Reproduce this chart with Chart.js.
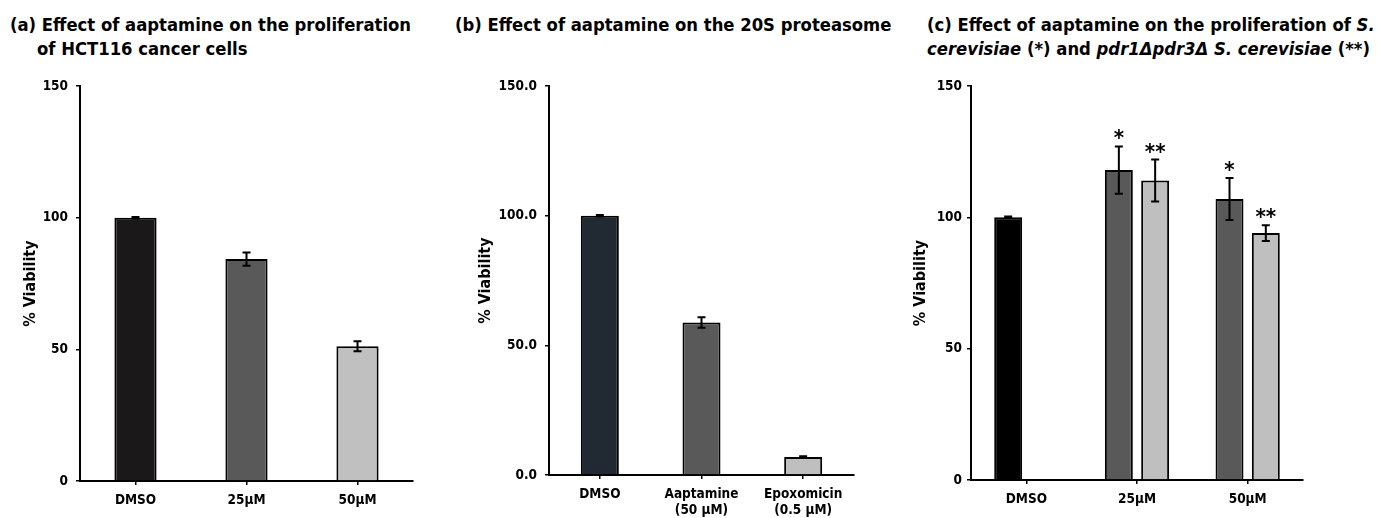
<!DOCTYPE html>
<html><head><meta charset="utf-8">
<script src="https://cdn.jsdelivr.net/npm/chart.js@4"></script>
<style>
html,body{margin:0;padding:0;background:#fff;width:1385px;height:518px;overflow:hidden;}
.t{position:absolute;font-family:'DejaVu Sans Condensed','DejaVu Sans',sans-serif;font-weight:bold;font-size:18.3px;line-height:24px;color:#000;white-space:nowrap;}
.c{position:absolute;}
</style></head><body>
<div class="t" style="left:10px;top:13px">(a) Effect of aaptamine on the proliferation</div>
<div class="t" style="left:37px;top:37px">of HCT116 cancer cells</div>
<div class="t" style="left:455px;top:13px">(b) Effect of aaptamine on the 20S proteasome</div>
<div class="t" style="left:927px;top:13px">(c) Effect of aaptamine on the proliferation of <i>S.</i></div>
<div class="t" style="left:927px;top:37px"><i>cerevisiae</i> (*) and <i>pdr1Δpdr3Δ S. cerevisiae</i> (**)</div>
<div class="c" style="left:0px;top:70px;width:440px;height:448px"><canvas id="ca"></canvas></div>
<div class="c" style="left:460px;top:70px;width:430px;height:448px"><canvas id="cb"></canvas></div>
<div class="c" style="left:890px;top:70px;width:470px;height:448px"><canvas id="cc"></canvas></div>
<script>
// ---- data ----
const catsA = ['DMSO', '25µM', '50µM'];
const valsA = [100, 84.3, 51.2];
const errsA = [0.3, 2.5, 1.9];
const colorsA = ['#1a1818', '#595959', '#c0c0c0'];

const catsB = ['DMSO', ['Aaptamine', '(50 µM)'], ['Epoxomicin', '(0.5 µM)']];
const valsB = [100, 58.8, 6.9];
const errsB = [0.3, 2.0, 0.3];
const colorsB = ['#212a33', '#595959', '#bfbfbf'];

const catsC = ['DMSO', '25µM', '50µM'];
const valsCwt = [100, 118, 107];
const errsCwt = [0.3, 9, 8];
const starsCwt = ['', '*', '*'];
const colorsCwt = ['#000000', '#595959', '#595959'];
const valsCmut = [null, 114, 94];
const errsCmut = [null, 8, 3];
const starsCmut = ['', '**', '**'];
const colorCmut = '#bfbfbf';

const yMin = 0, yMax = 150, yStep = 50;
const yTitle = '% Viability';

const FONT = "'DejaVu Sans Condensed','DejaVu Sans',sans-serif";

const errPlugin = {
  id: 'errbars',
  afterDatasetsDraw(chart) {
    const ctx = chart.ctx, y = chart.scales.y;
    chart.data.datasets.forEach((ds, di) => {
      if (!ds.errors) return;
      const meta = chart.getDatasetMeta(di);
      meta.data.forEach((bar, i) => {
        const v = ds.data[i], e = ds.errors[i];
        if (v == null || e == null) return;
        const x = bar.x, yt = y.getPixelForValue(v + e), yb = y.getPixelForValue(v - e);
        ctx.save();
        ctx.strokeStyle = '#000'; ctx.lineWidth = 2;
        ctx.beginPath();
        ctx.moveTo(x, yt); ctx.lineTo(x, yb);
        ctx.moveTo(x - 4, yt); ctx.lineTo(x + 4, yt);
        ctx.moveTo(x - 4, yb); ctx.lineTo(x + 4, yb);
        ctx.stroke();
        if (ds.stars && ds.stars[i]) {
          ctx.fillStyle = '#000';
          ctx.font = 'bold 22px ' + FONT;
          ctx.textAlign = 'center';
          ctx.textBaseline = 'alphabetic';
          ctx.fillText(ds.stars[i], x, yt - 1);
        }
        ctx.restore();
      });
    });
  }
};

function mk(id, labels, datasets, o) {
  return new Chart(document.getElementById(id), {
    type: 'bar',
    data: { labels, datasets },
    plugins: [errPlugin],
    options: {
      responsive: true, maintainAspectRatio: false, animation: false,
      layout: { padding: { top: 16, right: o.padRight, left: 0, bottom: 0 } },
      plugins: { legend: { display: false }, tooltip: { enabled: false } },
      datasets: { bar: { categoryPercentage: o.catPct, barPercentage: o.barPct } },
      scales: {
        x: {
          afterFit(s) { s.height = o.xHeight; },
          border: { display: true, color: '#000', width: 2 },
          grid: { offset: false, drawOnChartArea: false, drawTicks: true, tickLength: 4, color: '#000', lineWidth: 1.5 },
          ticks: { color: '#000', padding: 7, font: { family: FONT, weight: 'bold', size: 13.5 }, maxRotation: 0, autoSkip: false }
        },
        y: {
          min: yMin, max: yMax,
          afterFit(s) { s.width = o.yWidth; },
          border: { display: true, color: '#000', width: 2 },
          grid: { drawOnChartArea: false, drawTicks: true, tickLength: 4, color: '#000', lineWidth: 1.5 },
          ticks: { stepSize: yStep, color: '#000', padding: o.tickPad, font: { family: FONT, weight: 'bold', size: 13.5 },
                   callback: v => o.fmt ? v.toFixed(1) : String(v) },
          title: { display: true, text: yTitle, color: '#000', padding: { top: o.titlePad, bottom: 0 },
                   font: { family: FONT, weight: 'bold', size: 16 } }
        }
      }
    }
  });
}

mk('ca', catsA, [{ data: valsA, errors: errsA, backgroundColor: colorsA, borderColor: '#000', borderWidth: 2 }],
   { padRight: 27, yWidth: 80, xHeight: 37, catPct: 1, barPct: 0.38, tickPad: 8, titlePad: 21 });
mk('cb', catsB, [{ data: valsB, errors: errsB, backgroundColor: colorsB, borderColor: '#000', borderWidth: 2 }],
   { padRight: 36, yWidth: 89, xHeight: 43, catPct: 1, barPct: 0.374, tickPad: 8, titlePad: 16, fmt: true });
mk('cc', catsC, [
   { data: valsCwt, errors: errsCwt, stars: starsCwt, backgroundColor: colorsCwt, borderColor: '#000', borderWidth: 2 },
   { data: valsCmut, errors: errsCmut, stars: starsCmut, backgroundColor: colorCmut, borderColor: '#000', borderWidth: 2 }],
   { padRight: 57, yWidth: 81, xHeight: 38, catPct: 0.656, barPct: 0.77, tickPad: 5, titlePad: 21 });
</script>
</body></html>
